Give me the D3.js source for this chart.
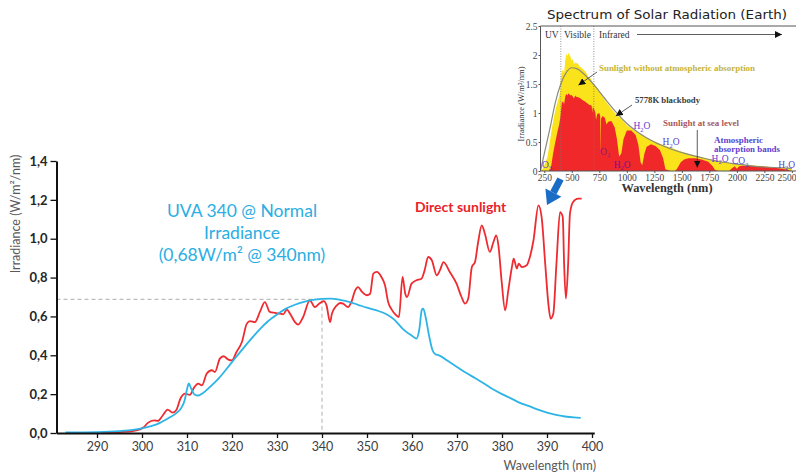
<!DOCTYPE html>
<html>
<head>
<meta charset="utf-8">
<script src="https://cdn.jsdelivr.net/npm/d3@7"></script>
<style>
  body { margin: 0; background: #fff; }
  svg { display: block; }
</style>
</head>
<body>
<svg id="chart" width="796" height="474"></svg>
<script>
// ---- main chart data ----
var xTicks = [290, 300, 310, 320, 330, 340, 350, 360, 370, 380, 390, 400];
var yTicks = [0, 0.2, 0.4, 0.6, 0.8, 1.0, 1.2, 1.4];
var refWl = 340, refLevel = 0.688;

// UVA-340 lamp, [wavelength nm, W/m²/nm]
var uvaPoints = [
  [283,0.003],[290,0.005],[295,0.01],[298,0.016],[300,0.024],[302,0.035],[304,0.052],[306,0.078],
  [307.5,0.1],[308.7,0.128],[309.5,0.17],[310,0.225],[310.4,0.255],[310.9,0.23],[311.6,0.2],
  [312.5,0.193],[313.5,0.205],[315,0.235],[317,0.28],[320,0.365],[323,0.45],[326,0.53],[328,0.575],
  [330,0.61],[332,0.64],[334,0.66],[336,0.675],[338,0.685],[340,0.69],[342,0.692],[344,0.685],
  [346,0.675],[348,0.66],[350,0.645],[352,0.632],[354,0.615],[356,0.585],[358,0.535],[360,0.5],
  [361,0.486],[361.6,0.53],[362.2,0.635],[362.5,0.64],[363,0.6],[363.8,0.5],[364.5,0.43],
  [365.2,0.405],[366,0.4],[368,0.37],[370,0.34],[372,0.31],[374,0.283],[376,0.255],[378,0.225],
  [380,0.2],[382,0.178],[384,0.155],[386,0.138],[388,0.12],[390,0.105],[392,0.093],[394,0.085],
  [396,0.08],[397.5,0.078]
];

// direct sunlight
var sunPoints = [
  [291,0.002],[295,0.005],[298,0.01],[299.5,0.018],[300.3,0.028],[301.3,0.052],[302.7,0.065],
  [303.5,0.062],[304.6,0.09],[305.7,0.12],[306.8,0.105],[307.6,0.117],[308.6,0.18],[309.6,0.203],
  [310.6,0.196],[311.6,0.235],[312.5,0.254],[313.3,0.245],[314.4,0.306],[315.5,0.323],[316.2,0.314],
  [317.3,0.383],[318.1,0.395],[319.2,0.378],[320,0.374],[321,0.417],[322.2,0.468],[323.3,0.563],
  [324,0.576],[325.1,0.571],[326.2,0.623],[327.3,0.674],[328.4,0.623],[329.6,0.618],[330.7,0.614],
  [331.4,0.611],[332.2,0.635],[332.9,0.614],[334,0.571],[334.7,0.558],[335.8,0.597],[337.3,0.683],
  [338.4,0.648],[339.4,0.666],[340.4,0.679],[341,0.657],[341.8,0.571],[342.2,0.614],[343.3,0.657],
  [344,0.669],[344.7,0.666],[345.8,0.648],[346.6,0.679],[347.3,0.73],[348,0.751],[348.9,0.726],
  [349.9,0.709],[350.7,0.717],[351.4,0.82],[352.2,0.829],[353.2,0.803],[354,0.76],[354.7,0.674],
  [355.5,0.635],[356.3,0.61],[357.1,0.597],[357.9,0.803],[358.5,0.717],[358.9,0.7],[359.9,0.769],
  [361,0.786],[362.1,0.794],[362.8,0.837],[363.6,0.906],[364.4,0.889],[365.5,0.812],[366.2,0.837],
  [367,0.88],[368.4,0.829],[369.9,0.769],[371,0.7],[371.8,0.666],[372.5,0.692],[373.3,0.854],
  [374,0.88],[374.7,0.983],[375.5,1.069],[376.2,1.026],[377.3,0.932],[378.1,0.983],[378.7,1.017],
  [379.2,0.966],[379.9,0.786],[380.7,0.631],[381.4,0.734],[382.2,0.854],[382.6,0.897],[383.3,0.846],
  [383.7,0.872],[384.4,0.854],[385.5,0.863],[386.2,0.906],[387,0.992],[388.1,1.172],[388.8,1.112],
  [389.6,0.872],[390.3,0.666],[390.8,0.589],[391.4,0.614],[392.1,0.872],[392.9,1.137],[393.5,1.112],
  [393.8,0.872],[394.2,0.692],[394.7,0.872],[395.1,1.129],[395.8,1.189],[396.9,1.206],[397.7,1.206]
];

// ---- inset (solar spectrum) data ----
var insetXTicks = [250, 500, 750, 1000, 1250, 1500, 1750, 2000, 2250, 2500];
var insetYTicks = [0, 0.5, 1, 1.5, 2, 2.5];
var bandEdges = [400, 700];

var bbPoints = [
  [215,0],[250,0.3],[300,0.72],[350,1.18],[400,1.5],[450,1.7],[500,1.78],[550,1.76],[600,1.69],
  [700,1.49],[800,1.25],[900,1.02],[1000,0.82],[1100,0.67],[1250,0.5],[1400,0.38],[1550,0.29],
  [1700,0.22],[1850,0.16],[2000,0.12],[2150,0.085],[2300,0.065],[2500,0.045]
];
var am0Points = [
  [220,0],[240,0.05],[260,0.15],[280,0.25],[300,0.5],[320,0.75],[340,0.95],[360,1.12],[380,1.25],
  [395,1.38],[400,1.6],[410,1.72],[420,1.75],[430,1.68],[440,1.9],[450,2.02],[460,1.98],[470,2.04],
  [480,2.0],[490,1.96],[500,1.9],[510,1.93],[520,1.84],[530,1.88],[540,1.85],[550,1.87],[570,1.8],
  [590,1.78],[610,1.74],[630,1.7],[650,1.62],[670,1.6],[690,1.52],[710,1.48],[750,1.38],[800,1.22],
  [850,1.1],[900,0.98],[950,0.9],[1000,0.79],[1100,0.66],[1200,0.55],[1300,0.47],[1400,0.4],
  [1500,0.33],[1600,0.27],[1700,0.23],[1800,0.19],[1900,0.15],[2000,0.12],[2100,0.1],[2200,0.09],
  [2300,0.07],[2400,0.06],[2500,0.05]
];
var seaPoints = [
  [290,0],[310,0.05],[330,0.3],[350,0.5],[370,0.68],[385,0.8],[395,0.92],[400,1.0],[405,1.1],
  [410,1.18],[420,1.2],[430,1.15],[440,1.28],[450,1.33],[460,1.3],[470,1.34],[480,1.32],[490,1.3],
  [500,1.31],[510,1.28],[520,1.25],[530,1.3],[540,1.28],[560,1.27],[580,1.25],[600,1.22],[620,1.2],
  [640,1.17],[660,1.14],[680,1.13],[686,1.0],[690,1.1],[700,1.08],[715,1.0],[720,0.88],[730,0.98],
  [750,1.0],[758,0.95],[761,0.25],[765,0.9],[780,0.95],[800,0.92],[815,0.8],[830,0.85],[860,0.86],
  [890,0.75],[910,0.55],[930,0.25],[950,0.3],[970,0.55],[1000,0.7],[1040,0.7],[1080,0.62],
  [1105,0.45],[1125,0.15],[1140,0.1],[1160,0.3],[1180,0.42],[1220,0.46],[1260,0.43],[1300,0.36],
  [1330,0.22],[1350,0.03],[1400,0],[1440,0],[1460,0.05],[1490,0.15],[1520,0.2],[1560,0.22],
  [1620,0.22],[1680,0.2],[1740,0.16],[1780,0.08],[1800,0.02],[1830,0],[1930,0],[1950,0.04],
  [1980,0.08],[2000,0.04],[2020,0.08],[2060,0.09],[2120,0.09],[2200,0.08],[2300,0.065],
  [2400,0.045],[2460,0.02],[2500,0]
];

var RED = '#ee2b30', BLUE = '#2db4e6';
var svg = d3.select('#chart');

// ================= main chart =================
var x = d3.scaleLinear().domain([281, 400.5]).range([56.5, 594.25]);
var y = d3.scaleLinear().domain([0, 1.4]).range([433, 161]);

// reference dashed lines (0,68 W/m² @ 340 nm)
svg.append('path')
  .attr('d', 'M' + x.range()[0] + ',' + y(refLevel) + 'H' + x(refWl) + 'V' + y(0))
  .attr('fill', 'none')
  .attr('stroke', '#bdbdbd')
  .attr('stroke-width', 1.2)
  .attr('stroke-dasharray', '4,3');

var line = d3.line()
  .x(function(d) { return x(d[0]); })
  .y(function(d) { return y(d[1]); })
  .curve(d3.curveMonotoneX);

svg.append('path').datum(sunPoints)
  .attr('d', line).attr('fill', 'none')
  .attr('stroke', RED).attr('stroke-width', 1.8);
svg.append('path').datum(uvaPoints)
  .attr('d', line).attr('fill', 'none')
  .attr('stroke', BLUE).attr('stroke-width', 1.8);

// axes
var gx = svg.append('g')
  .attr('transform', 'translate(0,' + y(0) + ')')
  .call(d3.axisBottom(x).tickValues(xTicks).tickSize(5).tickSizeOuter(0).tickPadding(4)
    .tickFormat(d3.format('d')));
gx.select('.domain').attr('stroke', '#111').attr('stroke-width', 2);
gx.selectAll('.tick line').attr('stroke', '#111').attr('stroke-width', 1.3);
gx.selectAll('.tick text').attr('font-family', 'Lato').attr('font-size', 12.5).attr('fill', '#404040');

var gy = svg.append('g')
  .attr('transform', 'translate(' + x.range()[0] + ',0)')
  .call(d3.axisLeft(y).tickValues(yTicks).tickSize(6).tickSizeOuter(0).tickPadding(3)
    .tickFormat(function(d) { return d.toFixed(1).replace('.', ','); }));
gy.select('.domain').attr('stroke', '#111').attr('stroke-width', 2);
gy.selectAll('.tick line').attr('stroke', '#111').attr('stroke-width', 1.3);
gy.selectAll('.tick text').attr('font-family', 'Lato').attr('font-weight', 'bold')
  .attr('font-size', 13).attr('fill', '#262626');

svg.append('text')
  .attr('transform', 'translate(20,214) rotate(-90)')
  .attr('text-anchor', 'middle')
  .attr('font-family', 'Lato').attr('font-size', 12.5).attr('fill', '#595959')
  .text('Irradiance  (W/m²/nm)');

svg.append('text')
  .attr('x', 596).attr('y', 470)
  .attr('text-anchor', 'end')
  .attr('font-family', 'Lato').attr('font-size', 12.5).attr('fill', '#595959')
  .text('Wavelength (nm)');

// labels
var uvaLines = ['UVA 340 @ Normal', 'Irradiance', '(0,68W/m² @ 340nm)'];
svg.append('g').selectAll('text').data(uvaLines).enter().append('text')
  .attr('x', 242).attr('y', function(d, i) { return 217 + i * 22; })
  .attr('text-anchor', 'middle')
  .attr('font-family', 'Lato').attr('font-size', 17.5).attr('fill', '#2aaee3')
  .text(function(d) { return d; });

svg.append('text')
  .attr('x', 415).attr('y', 212)
  .attr('font-family', 'Lato').attr('font-weight', 'bold').attr('font-size', 14)
  .attr('fill', '#e8232b')
  .text('Direct sunlight');

// ================= inset: solar spectrum =================
var ix = d3.scaleLinear().domain([220, 2510]).range([541, 793]);
var iy = d3.scaleLinear().domain([0, 2.5]).range([171, 26]);
var ins = svg.append('g').attr('class', 'inset');
var serif = 'Liberation Serif';

var area = function(pts) {
  return d3.area()
    .x(function(d) { return ix(d[0]); })
    .y0(iy(0))
    .y1(function(d) { return iy(d[1]); })(pts);
};
ins.append('path').attr('d', area(am0Points)).attr('fill', '#fbe31b');
ins.append('path').attr('d', area(seaPoints)).attr('fill', '#f0282a');
ins.append('path').datum(bbPoints)
  .attr('d', d3.line().x(function(d) { return ix(d[0]); }).y(function(d) { return iy(d[1]); })
    .curve(d3.curveMonotoneX))
  .attr('fill', 'none').attr('stroke', '#8a8a7a').attr('stroke-width', 1.2);

// UV / visible / infrared separators
ins.selectAll('line.band').data(bandEdges).enter().append('line')
  .attr('class', 'band')
  .attr('x1', function(d) { return ix(d); }).attr('x2', function(d) { return ix(d); })
  .attr('y1', iy(2.5)).attr('y2', iy(0))
  .attr('stroke', '#777').attr('stroke-width', 0.8).attr('stroke-dasharray', '1,1.5');

// frame
ins.append('path')
  .attr('d', 'M796,' + iy(2.5) + 'H' + 540.5 + 'V' + iy(0) + 'H796')
  .attr('fill', 'none').attr('stroke', '#555').attr('stroke-width', 1);

var igx = ins.append('g').attr('transform', 'translate(0,' + iy(0) + ')')
  .call(d3.axisBottom(ix).tickValues(insetXTicks).tickSize(2).tickSizeOuter(0).tickPadding(1)
    .tickFormat(d3.format('d')));
igx.select('.domain').remove();
igx.selectAll('.tick line').attr('stroke', '#555');
igx.selectAll('.tick text').attr('font-family', serif).attr('font-size', 9.5).attr('fill', '#444');
igx.selectAll('.tick text').filter(function(d) { return d === 2500; })
  .attr('text-anchor', 'end').attr('x', 796 - ix(2500));

var igy = ins.append('g').attr('transform', 'translate(540.5,0)')
  .call(d3.axisLeft(iy).tickValues(insetYTicks).tickSize(2).tickSizeOuter(0).tickPadding(1)
    .tickFormat(function(d) { return String(d); }));
igy.select('.domain').remove();
igy.selectAll('.tick line').attr('stroke', '#555');
igy.selectAll('.tick text').attr('font-family', serif).attr('font-size', 9.5).attr('fill', '#444');

ins.append('text')
  .attr('transform', 'translate(524,104) rotate(-90)')
  .attr('text-anchor', 'middle')
  .attr('font-family', serif).attr('font-size', 8.5).attr('fill', '#333')
  .text('Irradiance (W/m²/nm)');

ins.append('text')
  .attr('x', 667).attr('y', 19).attr('text-anchor', 'middle')
  .attr('font-family', 'DejaVu Sans').attr('font-size', 13).attr('fill', '#222')
  .attr('textLength', 240).attr('lengthAdjust', 'spacingAndGlyphs')
  .text('Spectrum of Solar Radiation (Earth)');

ins.append('text')
  .attr('x', 667).attr('y', 192).attr('text-anchor', 'middle')
  .attr('font-family', serif).attr('font-weight', 'bold').attr('font-size', 11.5).attr('fill', '#333')
  .attr('textLength', 91).attr('lengthAdjust', 'spacingAndGlyphs')
  .text('Wavelength (nm)');

// band names + infrared arrow
var defs = svg.append('defs');
defs.append('marker')
  .attr('id', 'tri').attr('viewBox', '0 -5 10 10')
  .attr('refX', 10).attr('refY', 0)
  .attr('markerWidth', 7).attr('markerHeight', 7)
  .attr('markerUnits', 'userSpaceOnUse')
  .attr('orient', 'auto')
  .append('path').attr('d', 'M0,-5L10,0L0,5Z').attr('fill', '#111');

var bandNames = [['UV', 545], ['Visible', 564], ['Infrared', 599]];
ins.selectAll('text.bandname').data(bandNames).enter().append('text')
  .attr('class', 'bandname')
  .attr('x', function(d) { return d[1]; }).attr('y', 37.5)
  .attr('font-family', serif).attr('font-size', 9.5).attr('fill', '#333')
  .text(function(d) { return d[0]; });
ins.append('line')
  .attr('x1', 637).attr('y1', 34.5).attr('x2', 782).attr('y2', 34.5)
  .attr('stroke', '#333').attr('stroke-width', 0.8).attr('marker-end', 'url(#tri)');

// annotations
function note(txt, tx, ty, len, color) {
  ins.append('text')
    .attr('x', tx).attr('y', ty)
    .attr('font-family', serif).attr('font-weight', 'bold').attr('font-size', 8.5)
    .attr('fill', color)
    .attr('textLength', len).attr('lengthAdjust', 'spacingAndGlyphs')
    .text(txt);
}
function pointer(x1, y1, x2, y2) {
  ins.append('line')
    .attr('x1', x1).attr('y1', y1).attr('x2', x2).attr('y2', y2)
    .attr('stroke', '#333').attr('stroke-width', 0.8).attr('marker-end', 'url(#tri)');
}
note('Sunlight without atmospheric absorption', 599, 71, 156, '#c4b33a');
pointer(597, 72, ix(560), iy(1.48));
note('5778K blackbody', 635, 103, 65, '#3a3a3a');
pointer(632, 105, ix(900), iy(0.95));
note('Sunlight at sea level', 663, 126, 76, '#a8585a');
pointer(ix(1640), 130, ix(1640), iy(0.06));
note('Atmospheric', 714, 143, 49, '#5b3fd0');
note('absorption bands', 714, 151.5, 66, '#5b3fd0');

// molecule labels placed on the wavelength/irradiance scales
var molecules = [
  { a: 'O', s: '3', b: '', wl: 228, v: 0.06, c: '#5b3fd0' },
  { a: 'O', s: '2', b: '', wl: 757, v: 0.28, c: '#8a1a7a' },
  { a: 'H', s: '2', b: 'O', wl: 880, v: 0.06, c: '#7a1a7a' },
  { a: 'H', s: '2', b: 'O', wl: 1060, v: 0.72, c: '#5b3fd0' },
  { a: 'H', s: '2', b: 'O', wl: 1325, v: 0.44, c: '#5b3fd0' },
  { a: 'H', s: '2', b: 'O', wl: 1770, v: 0.16, c: '#5b3fd0' },
  { a: 'CO', s: '2', b: '', wl: 1955, v: 0.12, c: '#5b3fd0' },
  { a: 'H', s: '2', b: 'O', wl: 2375, v: 0.06, c: '#5b3fd0' }
];
molecules.forEach(function(m) {
  var t = ins.append('text')
    .attr('x', ix(m.wl)).attr('y', iy(m.v))
    .attr('font-family', serif).attr('font-size', 9.5).attr('fill', m.c);
  t.append('tspan').text(m.a);
  t.append('tspan').attr('font-size', 6.5).attr('dy', 2.5).text(m.s);
  if (m.b) t.append('tspan').attr('dy', -2.5).text(m.b);
});

// big blue arrow from the inset down to the main chart
svg.append('line')
  .attr('x1', 560.5).attr('y1', 179).attr('x2', 553.4).attr('y2', 192.6)
  .attr('stroke', '#1a6cc4').attr('stroke-width', 7);
svg.append('polygon')
  .attr('points', '547,205 545.4,188.5 561.4,196.7')
  .attr('fill', '#1a6cc4');
</script>
</body>
</html>
